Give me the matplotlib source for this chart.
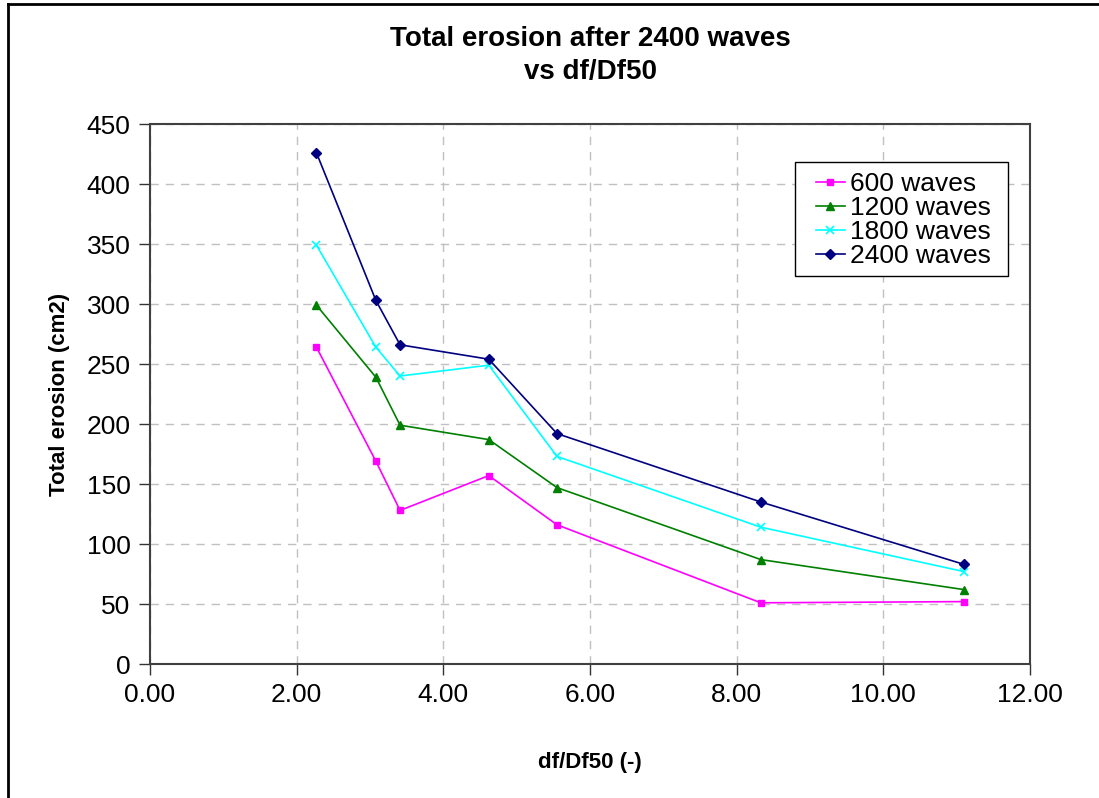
import matplotlib
matplotlib.use("Agg")
import matplotlib.pyplot as plt
from matplotlib.lines import Line2D
from matplotlib.patches import Rectangle

plt.rcParams['font.family'] = ['Liberation Sans', 'DejaVu Sans']

x_vals = [2.27, 3.08, 3.41, 4.62, 5.55, 8.33, 11.10]
waves_600 = [264, 169, 128, 157, 116, 51, 52]
waves_1200 = [299, 239, 199, 187, 147, 87, 62]
waves_1800 = [349, 264, 240, 249, 173, 114, 77]
waves_2400 = [426, 303, 266, 254, 192, 135, 83]
series_labels = ["600 waves", "1200 waves", "1800 waves", "2400 waves"]
x_ticks = [0, 2, 4, 6, 8, 10, 12]
y_ticks = [0, 50, 100, 150, 200, 250, 300, 350, 400, 450]

W, H = 1099, 798
fig = plt.figure(figsize=(W / 100, H / 100), dpi=100)
fig.patch.set_facecolor("white")
ax = fig.add_axes([150 / W, 1 - 664 / H, (1030 - 150) / W, (664 - 124) / H])

styles = [
    dict(color="#FF00FF", marker="s", markersize=5),
    dict(color="#008000", marker="^", markersize=6),
    dict(color="#00FFFF", marker="x", markersize=6, markeredgewidth=1.2),
    dict(color="#000080", marker="D", markersize=5),
]
for ys, lab, st in zip([waves_600, waves_1200, waves_1800, waves_2400], series_labels, styles):
    ax.plot(x_vals, ys, label=lab, linewidth=1.2, **st)

ax.set_xlim(0, 12)
ax.set_ylim(0, 450)
ax.set_xticks(x_ticks)
ax.set_xticklabels([f"{v:.2f}" for v in x_ticks])
ax.set_yticks(y_ticks)
ax.set_yticklabels([str(v) for v in y_ticks])
ax.tick_params(axis="both", direction="out", length=8, width=1, labelsize=19, color="#333333", pad=6)
ax.grid(True, color="#C0C0C0", linestyle=(0, (6, 5)), linewidth=1)
for sp in ax.spines.values():
    sp.set_color("#404040")
    sp.set_linewidth(1.5)

ax.set_xlabel("df/Df50 (-)", fontsize=16, fontweight="bold", labelpad=32)
ax.set_ylabel("Total erosion (cm2)", fontsize=16, fontweight="bold", labelpad=12)
fig.text(590 / W, 1 - 55 / H, "Total erosion after 2400 waves\nvs df/Df50", ha="center", va="center",
         fontsize=20, fontweight="bold", linespacing=1.35)

leg_box = Rectangle((795 / W, 1 - 276 / H), (1008 - 795) / W, (276 - 162) / H, transform=fig.transFigure,
                    facecolor="white", edgecolor="black", linewidth=1, zorder=4)
fig.add_artist(leg_box)
handles, labels = ax.get_legend_handles_labels()
leg = fig.legend(handles, labels, loc="upper left", bbox_to_anchor=(808 / W, 1 - 164 / H),
                 bbox_transform=fig.transFigure,
                 fontsize=19, frameon=False, borderpad=0.3,
                 labelspacing=0.0, handlelength=1.1, handletextpad=0.2, borderaxespad=0)
leg.set_zorder(5)

fig.add_artist(Line2D([8 / W, 8 / W], [0, 1 - 4 / H], transform=fig.transFigure, color="black", linewidth=2))
fig.add_artist(Line2D([8 / W, 1], [1 - 4 / H, 1 - 4 / H], transform=fig.transFigure, color="black", linewidth=2))

fig.savefig("out.png", dpi=100)
